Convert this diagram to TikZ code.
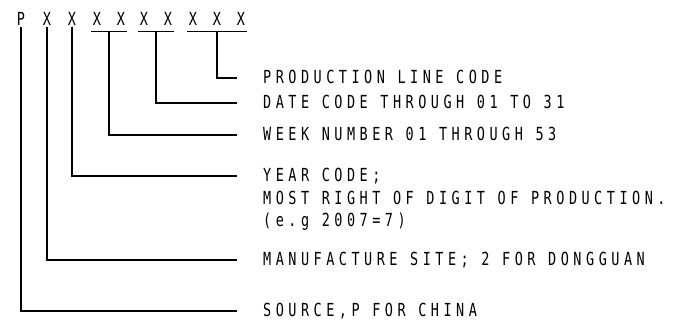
\documentclass[tikz,border=0pt]{standalone}
\usepackage{fontspec}
\newfontfamily\cadfont{DejaVu Sans Mono}[FakeStretch=0.75,LetterSpace=25]
\usetikzlibrary{positioning,calc}

\begin{document}
\begin{tikzpicture}[x=1pt, y=-1pt,
  font={\cadfont\fontsize{18}{22.5}\selectfont},
  digit/.style={inner sep=0pt, text height=13pt, text depth=0pt},
  code/.style={inner sep=0pt, anchor=base west, align=left},
  rule/.style={line width=1.2pt},
  lead/.style={line width=1.2pt, shorten >=26pt}
]
\useasboundingbox (0,0) rectangle (673,323);

% serial number characters
\foreach \i/\x/\ch in {0/21/P, 1/47/X, 2/72/X, 3/97/X, 4/121/X,
                       5/144/X, 6/168/X, 7/193/X, 8/217/X, 9/241/X}
  \node[digit] (c\i) at (\x,19) {\ch};

% group underlines
\draw[rule] ($(c3.south)+(-6,6)$) -- ($(c4.south)+(6,6)$);
\draw[rule] ($(c5.south)+(-6,6)$) -- ($(c6.south)+(6,6)$);
\draw[rule] ($(c7.south)+(-6,6)$) -- ($(c9.south)+(6,6)$);
\coordinate (wk) at ($(c3.south)!0.5!(c4.south)+(0,6)$);
\coordinate (dt) at ($(c5.south)!0.5!(c6.south)+(0,6)$);
\coordinate (ln) at ($(c8.south)+(0,6)$);

% descriptions
\node[code] (line) at (263,84)  {PRODUCTION LINE CODE};
\node[code] (date) at (263,109) {DATE CODE THROUGH 01 TO 31};
\node[code] (week) at (263,141) {WEEK NUMBER 01 THROUGH 53};
\node[code] (year) at (263,227) {YEAR CODE;\\MOST RIGHT OF DIGIT OF PRODUCTION.\\(e.g 2007=7)};
\node[code] (site) at (263,266) {MANUFACTURE SITE; 2 FOR DONGGUAN};
\node[code] (src)  at (263,317) {SOURCE,P FOR CHINA};

% leaders
\draw[lead] (ln) |- ($(line.base west)+(0,-6)$);
\draw[lead] (dt) |- ($(date.base west)+(0,-6)$);
\draw[lead] (wk) |- ($(week.base west)+(0,-6)$);
\draw[lead] ($(c2.south)+(0,1)$) |- ($(year.base west)+(0,-51)$);
\draw[lead] ($(c1.south)+(0,1)$) |- ($(site.base west)+(0,-6)$);
\draw[lead] ($(c0.south)+(0,1)$) |- ($(src.base west)+(0,-6)$);
\end{tikzpicture}
\end{document}
